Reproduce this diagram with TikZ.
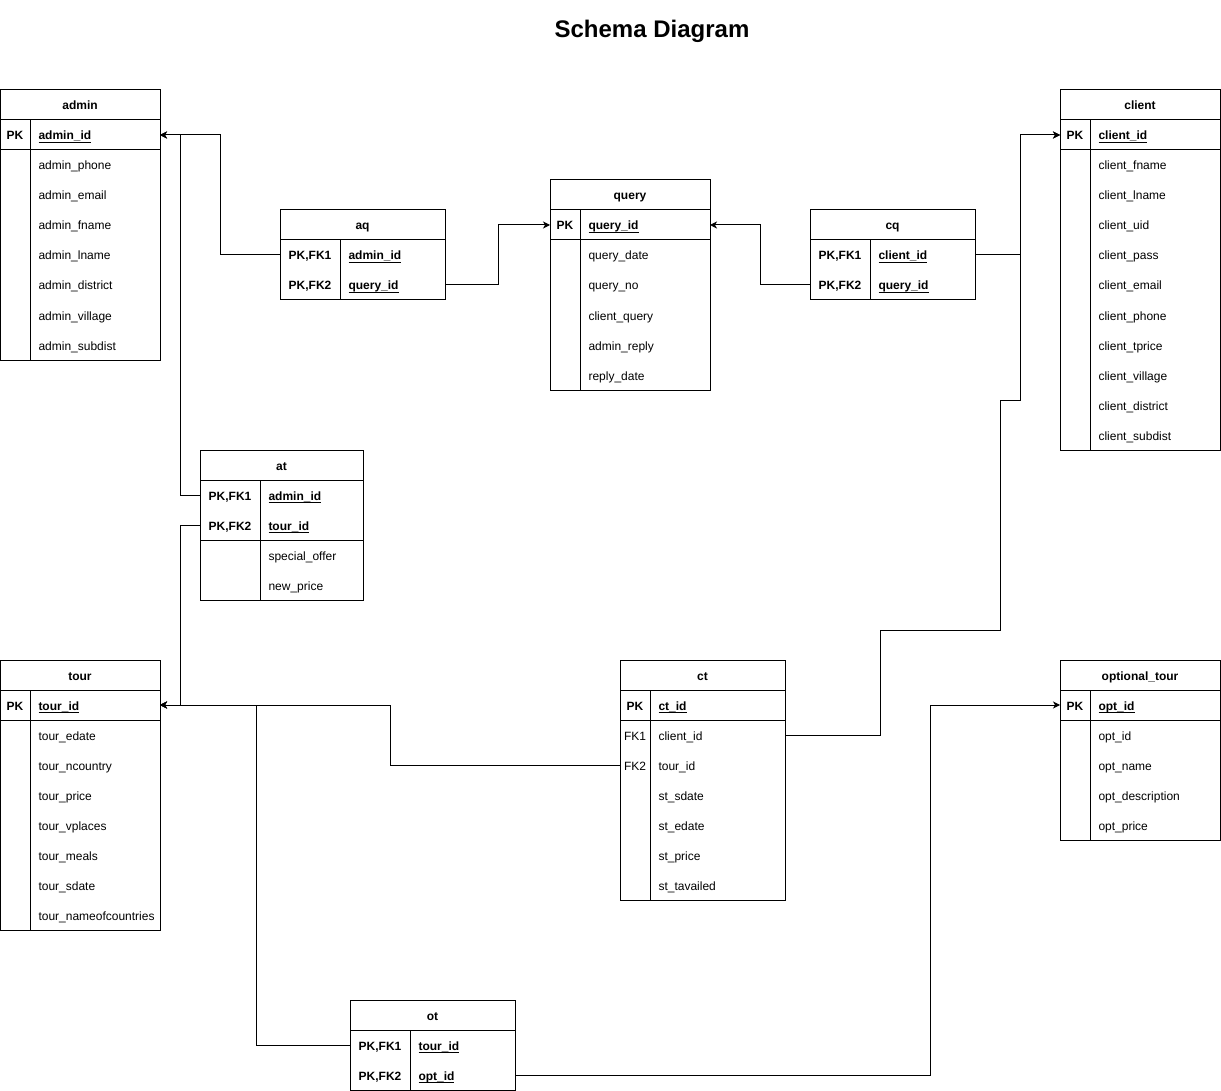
\documentclass[tikz,border=0pt]{standalone}
\usepackage{fontspec}
\setmainfont{Liberation Sans}
\usetikzlibrary{arrows.meta,positioning}

\newcommand{\tablefont}{\fontsize{12}{14}\selectfont}
\newcommand{\keyname}[1]{\setbox0\hbox{\bfseries #1}\rlap{\rule[-3pt]{\wd0}{0.8pt}}\box0}

\tikzset{
    cell/.style={draw, anchor=north west, inner sep=0pt, outer sep=0pt},
    tabletitle/.style={cell, minimum height=30, text height=10pt, text depth=0pt, font=\tablefont\bfseries},
    keylabel/.style={inner sep=0pt, text height=10pt, text depth=0pt, font=\tablefont\bfseries},
    fklabel/.style={inner sep=0pt, text height=10pt, text depth=0pt, font=\tablefont},
    field/.style={anchor=west, inner sep=0pt, text height=10pt, text depth=0pt, font=\tablefont},
    fk/.style={-{Stealth[length=7pt, width=7pt, inset=2pt]}},
}

\begin{document}
\begin{tikzpicture}[x=1pt, y=-1pt, line width=1pt]
    \path[use as bounding box, fill=white] (0,0) rectangle (1221,1091);

    % Title
    \node[inner sep=0pt, text height=15pt, text depth=0pt, font=\fontsize{24}{28}\selectfont\bfseries] (heading) at (652,30) {Schema Diagram};

    % admin
    \node[tabletitle, minimum width=160] (admin) at (0,90) {admin};
    \node[cell, minimum width=160, minimum height=30] (admin-key) at (0,120) {};
    \node[cell, minimum width=160, minimum height=210] (admin-body) at (0,150) {};
    \draw ([xshift=30]admin-key.north west) -- ([xshift=30]admin-body.south west);
    \node[keylabel] (admin-pk) at (15,135) {PK};
    \node[field] (admin-id) at (38,135) {\keyname{admin\_id}};
    \foreach \f [count=\i] in {admin\_phone, admin\_email, admin\_fname, admin\_lname, admin\_district, admin\_village, admin\_subdist}
        \node[field] (admin-f\i) at (38,135+30*\i) {\f};

    % client
    \node[tabletitle, minimum width=160] (client) at (1060,90) {client};
    \node[cell, minimum width=160, minimum height=30] (client-key) at (1060,120) {};
    \node[cell, minimum width=160, minimum height=300] (client-body) at (1060,150) {};
    \draw ([xshift=30]client-key.north west) -- ([xshift=30]client-body.south west);
    \node[keylabel] (client-pk) at (1075,135) {PK};
    \node[field] (client-id) at (1098,135) {\keyname{client\_id}};
    \foreach \f [count=\i] in {client\_fname, client\_lname, client\_uid, client\_pass, client\_email, client\_phone, client\_tprice, client\_village, client\_district, client\_subdist}
        \node[field] (client-f\i) at (1098,135+30*\i) {\f};

    % query
    \node[tabletitle, minimum width=160] (query) at (550,180) {query};
    \node[cell, minimum width=160, minimum height=30] (query-key) at (550,210) {};
    \node[cell, minimum width=160, minimum height=150] (query-body) at (550,240) {};
    \draw ([xshift=30]query-key.north west) -- ([xshift=30]query-body.south west);
    \node[keylabel] (query-pk) at (565,225) {PK};
    \node[field] (query-id) at (588,225) {\keyname{query\_id}};
    \foreach \f [count=\i] in {query\_date, query\_no, client\_query, admin\_reply, reply\_date}
        \node[field] (query-f\i) at (588,225+30*\i) {\f};

    % aq
    \node[tabletitle, minimum width=165] (aq) at (280,210) {aq};
    \node[cell, minimum width=165, minimum height=60] (aq-key) at (280,240) {};
    \draw ([xshift=60]aq-key.north west) -- ([xshift=60]aq-key.south west);
    \node[keylabel] (aq-k1) at (310,255) {PK,FK1};
    \node[keylabel] (aq-k2) at (310,285) {PK,FK2};
    \node[field] (aq-n1) at (348,255) {\keyname{admin\_id}};
    \node[field] (aq-n2) at (348,285) {\keyname{query\_id}};

    % cq
    \node[tabletitle, minimum width=165] (cq) at (810,210) {cq};
    \node[cell, minimum width=165, minimum height=60] (cq-key) at (810,240) {};
    \draw ([xshift=60]cq-key.north west) -- ([xshift=60]cq-key.south west);
    \node[keylabel] (cq-k1) at (840,255) {PK,FK1};
    \node[keylabel] (cq-k2) at (840,285) {PK,FK2};
    \node[field] (cq-n1) at (878,255) {\keyname{client\_id}};
    \node[field] (cq-n2) at (878,285) {\keyname{query\_id}};

    % at
    \node[tabletitle, minimum width=163] (at) at (200,450) {at};
    \node[cell, minimum width=163, minimum height=60] (at-key) at (200,480) {};
    \node[cell, minimum width=163, minimum height=60] (at-body) at (200,540) {};
    \draw ([xshift=60]at-key.north west) -- ([xshift=60]at-body.south west);
    \node[keylabel] (at-k1) at (230,495) {PK,FK1};
    \node[keylabel] (at-k2) at (230,525) {PK,FK2};
    \node[field] (at-n1) at (268,495) {\keyname{admin\_id}};
    \node[field] (at-n2) at (268,525) {\keyname{tour\_id}};
    \node[field] (at-f1) at (268,555) {special\_offer};
    \node[field] (at-f2) at (268,585) {new\_price};

    % tour
    \node[tabletitle, minimum width=160] (tour) at (0,660) {tour};
    \node[cell, minimum width=160, minimum height=30] (tour-key) at (0,690) {};
    \node[cell, minimum width=160, minimum height=210] (tour-body) at (0,720) {};
    \draw ([xshift=30]tour-key.north west) -- ([xshift=30]tour-body.south west);
    \node[keylabel] (tour-pk) at (15,705) {PK};
    \node[field] (tour-id) at (38,705) {\keyname{tour\_id}};
    \foreach \f [count=\i] in {tour\_edate, tour\_ncountry, tour\_price, tour\_vplaces, tour\_meals, tour\_sdate, tour\_nameofcountries}
        \node[field] (tour-f\i) at (38,705+30*\i) {\f};

    % ct
    \node[tabletitle, minimum width=165] (ct) at (620,660) {ct};
    \node[cell, minimum width=165, minimum height=30] (ct-key) at (620,690) {};
    \node[cell, minimum width=165, minimum height=180] (ct-body) at (620,720) {};
    \draw ([xshift=30]ct-key.north west) -- ([xshift=30]ct-body.south west);
    \node[keylabel] (ct-pk) at (635,705) {PK};
    \node[field] (ct-id) at (658,705) {\keyname{ct\_id}};
    \node[fklabel] (ct-fk1) at (635,735) {FK1};
    \node[fklabel] (ct-fk2) at (635,765) {FK2};
    \foreach \f [count=\i] in {client\_id, tour\_id, st\_sdate, st\_edate, st\_price, st\_tavailed}
        \node[field] (ct-f\i) at (658,705+30*\i) {\f};

    % optional_tour
    \node[tabletitle, minimum width=160] (opttour) at (1060,660) {optional\_tour};
    \node[cell, minimum width=160, minimum height=30] (opttour-key) at (1060,690) {};
    \node[cell, minimum width=160, minimum height=120] (opttour-body) at (1060,720) {};
    \draw ([xshift=30]opttour-key.north west) -- ([xshift=30]opttour-body.south west);
    \node[keylabel] (opttour-pk) at (1075,705) {PK};
    \node[field] (opt-id) at (1098,705) {\keyname{opt\_id}};
    \foreach \f [count=\i] in {opt\_id, opt\_name, opt\_description, opt\_price}
        \node[field] (opttour-f\i) at (1098,705+30*\i) {\f};

    % ot
    \node[tabletitle, minimum width=165] (ot) at (350,1000) {ot};
    \node[cell, minimum width=165, minimum height=60] (ot-key) at (350,1030) {};
    \draw ([xshift=60]ot-key.north west) -- ([xshift=60]ot-key.south west);
    \node[keylabel] (ot-k1) at (380,1045) {PK,FK1};
    \node[keylabel] (ot-k2) at (380,1075) {PK,FK2};
    \node[field] (ot-n1) at (418,1045) {\keyname{tour\_id}};
    \node[field] (ot-n2) at (418,1075) {\keyname{opt\_id}};

    % Relationships to admin and query
    \draw[fk] (aq-k1 -| aq.west) -- ++(-60,0) |- (admin-id -| admin.east);
    \draw[fk] (aq-k2 -| aq.east) -- ++(53,0) |- (query-id -| query.west);
    \draw[fk] (cq-k2 -| cq.west) -- ++(-50,0) |- (query-id -| query.east);
    \draw[fk] (cq-k1 -| cq.east) -- ++(45,0) |- (client-id -| client.west);
    \draw[fk] (at-k1 -| at.west) -- ++(-20,0) |- (admin-id -| admin.east);

    % Relationships to tour
    \draw[fk] (at-k2 -| at.west) -- ++(-20,0) |- (tour-id -| tour.east);
    \draw[fk] (ct-fk2 -| ct.west) -- ++(-230,0) |- (tour-id -| tour.east);
    \draw[fk] (ot-k1 -| ot.west) -- ++(-94,0) |- (tour-id -| tour.east);

    % Relationships to optional_tour and client
    \draw[fk] (ot-k2 -| ot.east) -- ++(415,0) |- (opt-id -| opttour.west);
    \draw[fk] (ct-f1 -| ct.east) -- ++(95,0) -- ++(0,-105) -- ++(120,0) -- ++(0,-230) -- ++(20,0) |- (client-id -| client.west);
\end{tikzpicture}
\end{document}
